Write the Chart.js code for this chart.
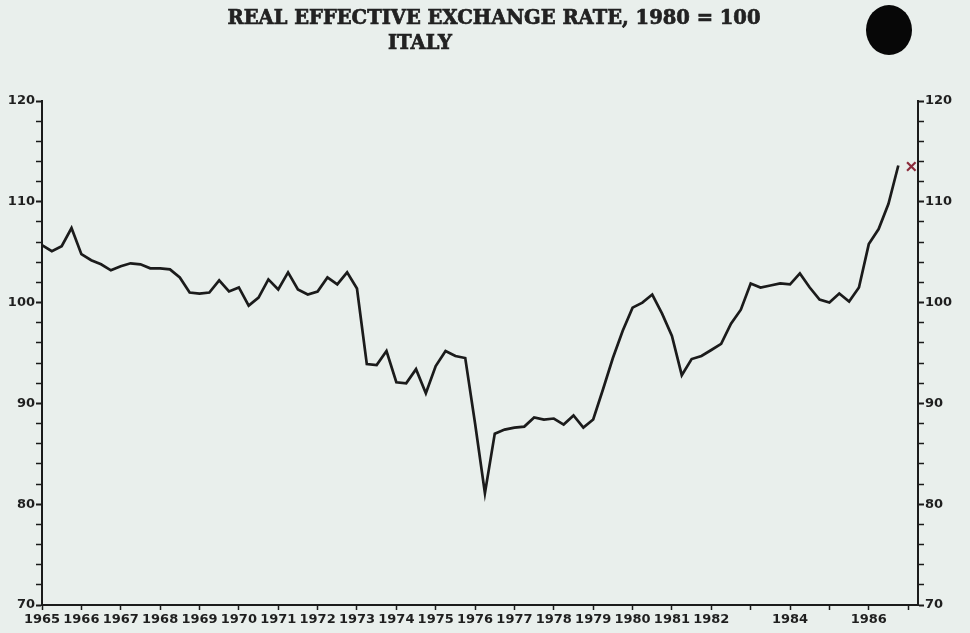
<!DOCTYPE html>
<html>
<head>
<meta charset="utf-8">
<script src="https://cdn.jsdelivr.net/npm/chart.js@4.4.1/dist/chart.umd.min.js"></script>
<style>
  html, body { margin: 0; padding: 0; background: #e9efec; }
  #wrap { width: 970px; height: 633px; position: relative; }
</style>
</head>
<body>
<div id="wrap"><canvas id="reer" width="970" height="633"></canvas></div>
<script>
// Heading
const titleLines = ['REAL EFFECTIVE EXCHANGE RATE, 1980 = 100', 'ITALY'];

// Quarterly real effective exchange rate, 1965 Q1 – 1986 Q4 (1980 = 100)
const firstYear = 1965;
const reerItaly = [
  105.7, 105.1, 105.6, 107.4,  104.8, 104.2, 103.8, 103.2,
  103.6, 103.9, 103.8, 103.4,  103.4, 103.3, 102.5, 101.0,
  100.9, 101.0, 102.2, 101.1,  101.5,  99.7, 100.5, 102.3,
  101.3, 103.0, 101.3, 100.8,  101.1, 102.5, 101.8, 103.0,
  101.4,  93.9,  93.8,  95.2,   92.1,  92.0,  93.4,  91.0,
   93.7,  95.2,  94.7,  94.5,   88.0,  81.1,  87.0,  87.4,
   87.6,  87.7,  88.6,  88.4,   88.5,  87.9,  88.8,  87.6,
   88.4,  91.4,  94.5,  97.2,   99.5, 100.0, 100.8,  98.9,
   96.7,  92.8,  94.4,  94.7,   95.3,  95.9,  97.9,  99.3,
  101.9, 101.5, 101.7, 101.9,  101.8, 102.9, 101.5, 100.3,
  100.0, 100.9, 100.1, 101.5,  105.8, 107.3, 109.8, 113.6
];
const quarterPeriods = reerItaly.map((_, i) => firstYear + i / 4);

// Latest reading, marked with a cross
const latestPeriod = 1987.08;
const latestValue = 113.5;

// Axis ticks
const yearTicks = [1965, 1966, 1967, 1968, 1969, 1970, 1971, 1972, 1973, 1974, 1975,
                   1976, 1977, 1978, 1979, 1980, 1981, 1982, 1983, 1984, 1985, 1986, 1987];
const yearLabels = [1965, 1966, 1967, 1968, 1969, 1970, 1971, 1972, 1973, 1974, 1975,
                    1976, 1977, 1978, 1979, 1980, 1981, 1982, 1984, 1986];
const valueTicks = [70, 72, 74, 76, 78, 80, 82, 84, 86, 88, 90, 92, 94, 96, 98,
                    100, 102, 104, 106, 108, 110, 112, 114, 116, 118, 120];
const valueLabels = [70, 80, 90, 100, 110, 120];

const ink = '#1b1b1b';
const labelFont = { family: 'DejaVu Sans', weight: 'bold', size: 13 };

function valueAxis(position, width) {
  return {
    type: 'linear',
    position: position,
    min: 70,
    max: 120,
    afterBuildTicks: s => { s.ticks = valueTicks.map(v => ({ value: v })); },
    afterFit: s => { s.width = width; },
    ticks: {
      autoSkip: false,
      padding: 1,
      color: '#1f1f1f',
      font: labelFont,
      callback: v => valueLabels.includes(v) ? String(v) : ''
    },
    grid: {
      drawOnChartArea: false,
      drawTicks: true,
      tickLength: 6,
      tickColor: ink,
      tickWidth: ctx => (ctx.tick && valueLabels.includes(ctx.tick.value)) ? 2 : 1.5
    },
    border: { display: true, color: ink, width: 2 }
  };
}

// Title text and the dark blot in the top corner
const decorations = {
  id: 'decorations',
  afterDraw(chart) {
    const c = chart.ctx;
    c.save();
    c.fillStyle = '#222';
    c.strokeStyle = '#222';
    c.lineWidth = 0.7;
    c.textAlign = 'center';
    c.textBaseline = 'middle';
    c.font = 'bold 19.5px "DejaVu Serif"';
    c.fillText(titleLines[0], 494, 19);
    c.strokeText(titleLines[0], 494, 19);
    c.fillText(titleLines[1], 420, 44);
    c.strokeText(titleLines[1], 420, 44);
    c.fillStyle = '#070707';
    c.beginPath();
    c.ellipse(889, 30, 23, 25, 0, 0, Math.PI * 2);
    c.fill();
    c.restore();
  }
};

new Chart(document.getElementById('reer'), {
  type: 'line',
  data: {
    datasets: [
      {
        label: 'Italy',
        data: quarterPeriods.map((p, i) => ({ x: p, y: reerItaly[i] })),
        borderColor: ink,
        borderWidth: 2.7,
        pointRadius: 0,
        tension: 0,
        fill: false
      },
      {
        label: 'Latest',
        data: [{ x: latestPeriod, y: latestValue }],
        showLine: false,
        pointStyle: 'crossRot',
        pointRadius: 6,
        pointBorderWidth: 2.2,
        pointBorderColor: '#8a2a3a',
        borderColor: '#8a2a3a'
      }
    ]
  },
  options: {
    responsive: false,
    animation: false,
    events: [],
    layout: { padding: { top: 101, left: 0, right: 0, bottom: 0 } },
    plugins: {
      legend: { display: false },
      tooltip: { enabled: false },
      title: { display: false }
    },
    scales: {
      x: {
        type: 'linear',
        min: 1965,
        max: 1987.25,
        afterBuildTicks: s => { s.ticks = yearTicks.map(v => ({ value: v })); },
        afterFit: s => { s.height = 28; },
        ticks: {
          autoSkip: false,
          maxRotation: 0,
          padding: 2,
          color: '#1f1f1f',
          font: { family: 'DejaVu Sans', weight: 'bold', size: 13 },
          callback: v => yearLabels.includes(v) ? String(v) : ''
        },
        grid: {
          drawOnChartArea: false,
          drawTicks: true,
          tickLength: 5,
          tickColor: ink,
          tickWidth: 1.5
        },
        border: { display: true, color: ink, width: 2 }
      },
      y: valueAxis('left', 42),
      y2: valueAxis('right', 52)
    }
  },
  plugins: [decorations]
});
</script>
</body>
</html>
